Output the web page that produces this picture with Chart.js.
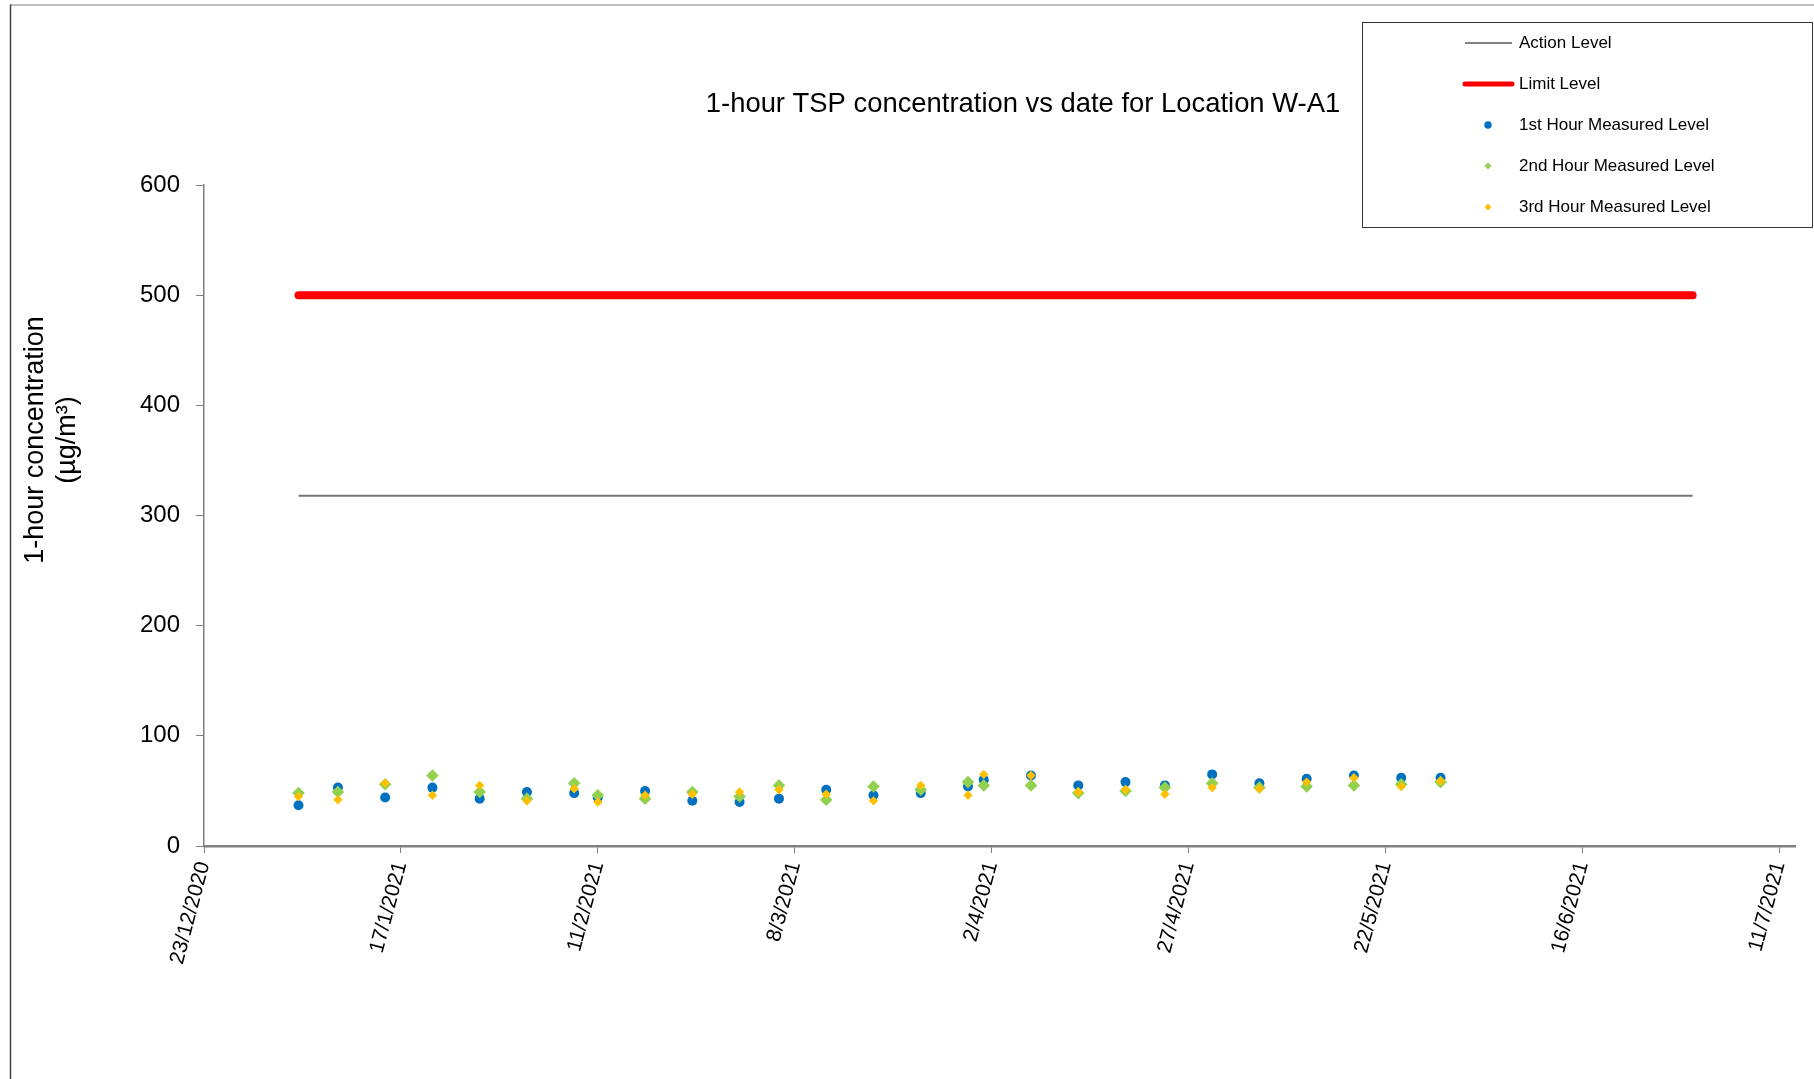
<!DOCTYPE html>
<html>
<head>
<meta charset="utf-8">
<script src="https://cdn.jsdelivr.net/npm/chart.js@4.4.1/dist/chart.umd.min.js"></script>
<style>
  html, body { margin: 0; padding: 0; background: #fff; }
  #wrap { width: 1814px; height: 1079px; position: relative; }
</style>
</head>
<body>
<div id="wrap"><canvas id="tspChart"></canvas></div>
<script>
// 1-hour TSP monitoring, Location W-A1

const chartTitle = '1-hour TSP concentration vs date for Location W-A1';
const yTitle = ['1-hour concentration', '(\u00b5g/m\u00b3)'];

// x axis runs in days from startDate, ticks every 25 days
const startDate = '2020-12-23';
const endDate = '2021-07-13';
const tickStep = 25;

const sampleDates = ['2021-01-04', '2021-01-09', '2021-01-15', '2021-01-21', '2021-01-27',
    '2021-02-02', '2021-02-08', '2021-02-11', '2021-02-17', '2021-02-23',
    '2021-03-01', '2021-03-06', '2021-03-12', '2021-03-18', '2021-03-24',
    '2021-03-30', '2021-04-01', '2021-04-07', '2021-04-13', '2021-04-19',
    '2021-04-24', '2021-04-30', '2021-05-06', '2021-05-12', '2021-05-18',
    '2021-05-24', '2021-05-29'];
const firstHour = [37, 53, 44, 53, 43, 49, 48, 44, 50, 41, 40, 43, 51, 46, 48, 54, 60, 64, 55, 58, 55, 65, 57, 61, 64, 62, 62];
const secondHour = [48, 49, 56, 64, 49, 43, 57, 46, 43, 49, 45, 55, 42, 54, 51, 58, 55, 55, 48, 50, 53, 57, 53, 54, 55, 56, 58];
const thirdHour = [45, 42, 57, 46, 55, 41, 52, 40, 46, 47, 49, 51, 47, 41, 55, 46, 65, 64, 49, 51, 47, 53, 52, 58, 62, 54, 59];

const levelDates = ['2021-01-04', '2021-06-30'];
const actionLevel = [318, 318];
const limitLevel = [500, 500];

const DAY = 86400000;
function toUTC(s) {
    let p = s.split('-');
    return Date.UTC(+p[0], +p[1] - 1, +p[2]);
}
const base = toUTC(startDate);
function dayOf(s) {
    return Math.round((toUTC(s) - base) / DAY);
}
function fmtDay(n) {
    let d = new Date(base + n * DAY);
    return d.getUTCDate() + '/' + (d.getUTCMonth() + 1) + '/' + d.getUTCFullYear();
}
function pairUp(dates, vals) {
    return dates.map((d, i) => ({ x: dayOf(d), y: vals[i] }));
}

const FONT = '"Liberation Sans", Arial, sans-serif';
Chart.defaults.font.family = FONT;
Chart.defaults.color = '#000';

// frame, titles and boxed legend are drawn by hand
const decor = {
    id: 'decor',
    afterDraw(chart) {
        let ctx = chart.ctx;
        ctx.save();

        ctx.lineWidth = 1.5;
        ctx.strokeStyle = '#a6a6a6';
        ctx.beginPath(); ctx.moveTo(10, 5); ctx.lineTo(1814, 5); ctx.stroke();
        ctx.strokeStyle = '#404040';
        ctx.beginPath(); ctx.moveTo(10.5, 4.5); ctx.lineTo(10.5, 1079); ctx.stroke();

        ctx.fillStyle = '#000';
        ctx.textAlign = 'center';
        ctx.textBaseline = 'middle';
        ctx.font = '27.4px ' + FONT;
        ctx.fillText(chartTitle, 1023, 104);

        ctx.save();
        ctx.translate(36, 440);
        ctx.rotate(-Math.PI / 2);
        ctx.font = '27px ' + FONT;
        ctx.fillText(yTitle[0], 0, 0);
        ctx.fillText(yTitle[1], 0, 32);
        ctx.restore();

        // legend box
        ctx.lineWidth = 1;
        ctx.strokeStyle = '#333';
        ctx.strokeRect(1362.5, 22.5, 450, 205);
        ctx.font = '17px ' + FONT;
        ctx.textAlign = 'left';
        chart.data.datasets.forEach(function (ds, i) {
            let y = 43 + i * 41;
            if (ds.showLine) {
                ctx.strokeStyle = ds.borderWidth > 4 ? ds.borderColor : '#595959';
                ctx.lineWidth = ds.borderWidth > 4 ? 5 : 1.3;
                ctx.lineCap = ds.borderCapStyle || 'butt';
                ctx.beginPath(); ctx.moveTo(1465, y); ctx.lineTo(1512, y); ctx.stroke();
            } else {
                ctx.fillStyle = ds.pointBackgroundColor;
                ctx.beginPath();
                if (ds.pointStyle === 'circle') {
                    ctx.arc(1488, y, 3.7, 0, Math.PI * 2);
                } else {
                    ctx.moveTo(1488, y - 3.5); ctx.lineTo(1491.5, y);
                    ctx.lineTo(1488, y + 3.5); ctx.lineTo(1484.5, y);
                    ctx.closePath();
                }
                ctx.fill();
            }
            ctx.fillStyle = '#000';
            ctx.fillText(ds.label, 1519, y);
        });
        ctx.restore();
    }
};

let tspCanvas = document.getElementById('tspChart').getContext('2d');
let tspChart = new Chart(tspCanvas, {
    type: 'scatter',
    data: {
        datasets: [{
            label: 'Action Level',
            data: pairUp(levelDates, actionLevel),
            showLine: true,
            borderColor: '#767676',
            borderWidth: 2,
            pointRadius: 0,
            order: 3
        }, {
            label: 'Limit Level',
            data: pairUp(levelDates, limitLevel),
            showLine: true,
            borderColor: '#ff0000',
            borderWidth: 8,
            borderCapStyle: 'round',
            pointRadius: 0,
            order: 3
        }, {
            label: '1st Hour Measured Level',
            data: pairUp(sampleDates, firstHour),
            pointStyle: 'circle',
            pointRadius: 5,
            pointBackgroundColor: '#0070c0',
            pointBorderWidth: 0,
            order: 2
        }, {
            label: '2nd Hour Measured Level',
            data: pairUp(sampleDates, secondHour),
            pointStyle: 'rectRot',
            pointRadius: 6.3,
            pointBackgroundColor: '#92d050',
            pointBorderWidth: 0,
            order: 1
        }, {
            label: '3rd Hour Measured Level',
            data: pairUp(sampleDates, thirdHour),
            pointStyle: 'rectRot',
            pointRadius: 4.7,
            pointBackgroundColor: '#ffc000',
            pointBorderWidth: 0,
            order: 0
        }]
    },
    options: {
        responsive: true,
        maintainAspectRatio: false,
        animation: false,
        layout: { padding: { top: 185, right: 19, bottom: 0, left: 0 } },
        plugins: {
            legend: { display: false },
            title: { display: false },
            tooltip: { enabled: false }
        },
        scales: {
            x: {
                type: 'linear',
                min: 0,
                max: dayOf(endDate),
                afterBuildTicks: function (scale) {
                    let t = [];
                    for (let v = 0; v <= dayOf(endDate); v += tickStep) t.push({ value: v });
                    scale.ticks = t;
                },
                afterFit: function (scale) { scale.height = 233; },
                grid: { drawOnChartArea: false, drawTicks: true, tickLength: 7, color: '#808080' },
                border: { display: true, color: '#808080', width: 2.5 },
                ticks: {
                    autoSkip: false,
                    minRotation: 75,
                    maxRotation: 75,
                    padding: 6,
                    font: { size: 21 },
                    callback: function (v) { return fmtDay(v); }
                }
            },
            y: {
                min: 0,
                max: 600,
                afterFit: function (scale) { scale.width = 204; },
                grid: { drawOnChartArea: false, drawTicks: true, tickLength: 8, color: '#808080' },
                border: { display: true, color: '#808080', width: 1.5 },
                ticks: {
                    stepSize: 100,
                    padding: 16,
                    font: { size: 24 }
                }
            }
        }
    },
    plugins: [decor]
});
</script>
</body>
</html>
